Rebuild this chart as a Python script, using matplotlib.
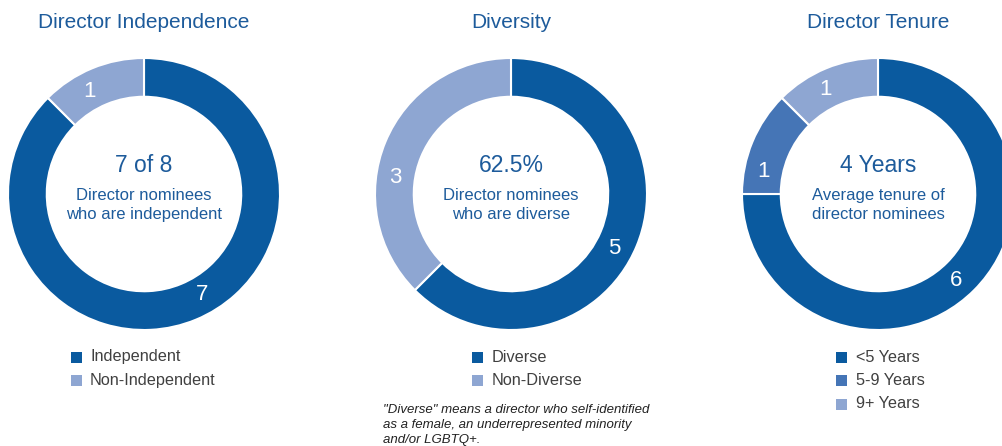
import matplotlib
matplotlib.use("Agg")
import matplotlib.pyplot as plt
import numpy as np
from matplotlib.patches import Rectangle

plt.rcParams['font.family'] = ['Liberation Sans', 'DejaVu Sans']

# ---- data ----
titles = ["Director Independence", "Diversity", "Director Tenure"]
labels_1 = ["Independent", "Non-Independent"]
values_1 = [7, 1]
labels_2 = ["Diverse", "Non-Diverse"]
values_2 = [5, 3]
labels_3 = ["<5 Years", "5-9 Years", "9+ Years"]
values_3 = [6, 1, 1]
center_big = ["7 of 8", "62.5%", "4 Years"]
center_small = [["Director nominees", "who are independent"],
                ["Director nominees", "who are diverse"],
                ["Average tenure of", "director nominees"]]
footnote = ['"Diverse" means a director who self-identified',
            'as a female, an underrepresented minority',
            'and/or LGBTQ+.']

DARK = "#0A5A9F"
MID = "#4575B6"
LIGHT = "#8EA6D2"
TXT = "#1D5B9B"
GREY = "#404040"

colors = [[DARK, LIGHT], [DARK, LIGHT], [DARK, MID, LIGHT]]
all_vals = [values_1, values_2, values_3]
all_labels = [labels_1, labels_2, labels_3]
# small angular nudges (degrees) for value-label placement, per chart
label_nudge = [[7.5, 5.5], [-5.5, 14.5], [-3, 11.5, 4]]

W, H = 1003, 446
fig = plt.figure(figsize=(W / 100, H / 100), dpi=100)
fig.patch.set_facecolor("white")

centers_x = [144, 511, 878]
cy = 194
R = 136
ring = 0.285

legend_x = [76, 478, 842]
legend_y0 = 357
legend_dy = 23.5

def fx(px):
    return px / W

def fy(py):
    return 1 - py / H

for i in range(3):
    cx = centers_x[i]
    ax = fig.add_axes([(cx - R) / W, (H - cy - R) / H, 2 * R / W, 2 * R / H])
    vals = all_vals[i]
    ax.pie(vals, colors=colors[i], startangle=90, counterclock=False,
           radius=1.0, wedgeprops=dict(width=ring, edgecolor="white", linewidth=1.5),
           frame=False)
    ax.set_xlim(-1, 1)
    ax.set_ylim(-1, 1)
    ax.axis("off")
    total = sum(vals)
    cum = 0
    for j, v in enumerate(vals):
        mid = 90 - 360 * (cum + v / 2) / total + label_nudge[i][j]
        cum += v
        r = 1 - ring / 2
        ax.text(r * np.cos(np.radians(mid)), r * np.sin(np.radians(mid)), str(v),
                color="white", fontsize=16, ha="center", va="center")
    fig.text(fx(cx), fy(166), center_big[i], color=TXT, fontsize=16.5, ha="center", va="center")
    fig.text(fx(cx), fy(196), center_small[i][0], color=TXT, fontsize=12, ha="center", va="center")
    fig.text(fx(cx), fy(215), center_small[i][1], color=TXT, fontsize=12, ha="center", va="center")
    fig.text(fx(cx), fy(23), titles[i], color=TXT, fontsize=15, ha="center", va="center")
    for j, lab in enumerate(all_labels[i]):
        yy = legend_y0 + j * legend_dy
        fig.patches.append(Rectangle((fx(legend_x[i] - 5.5), fy(yy + 5.5)), 11 / W, 11 / H,
                                     transform=fig.transFigure, facecolor=colors[i][j],
                                     edgecolor="none"))
        fig.text(fx(legend_x[i] + 14), fy(yy), lab, color=GREY, fontsize=11.7,
                 ha="left", va="center")

for k, line in enumerate(footnote):
    fig.text(fx(383), fy(410 + k * 15), line, color="#222222", fontsize=9.5,
             style="italic", ha="left", va="center")

fig.savefig("out.png", dpi=100, facecolor="white")
